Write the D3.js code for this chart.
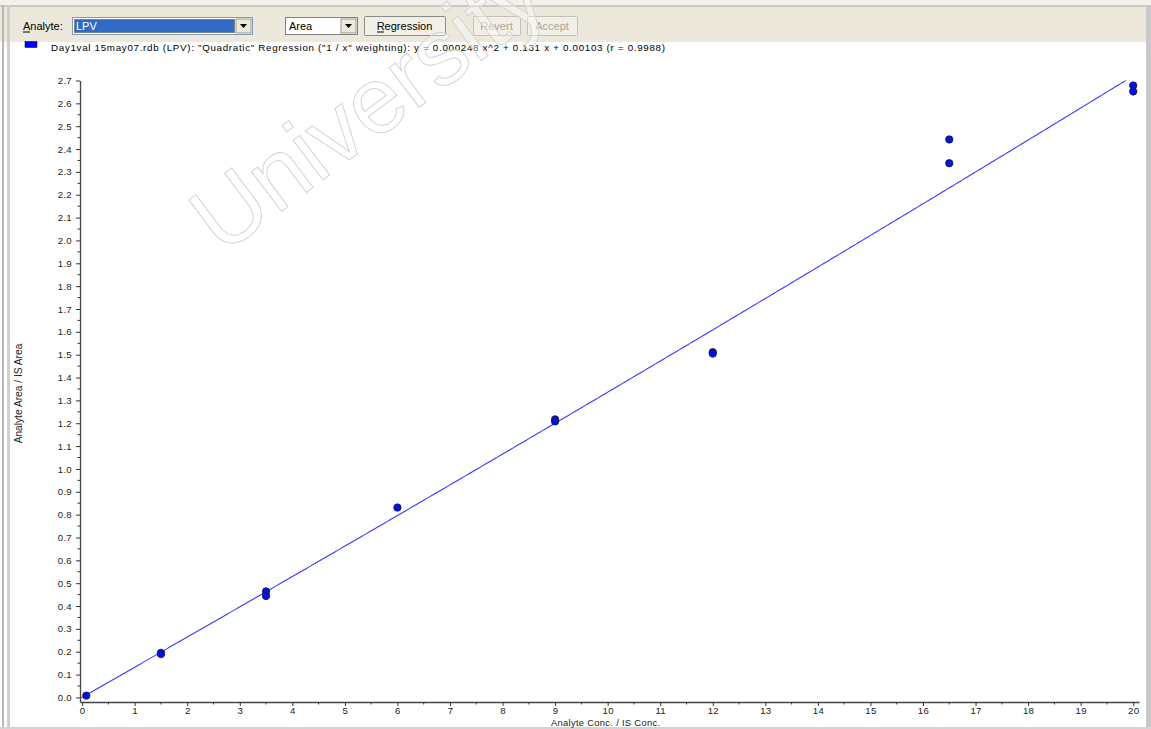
<!DOCTYPE html>
<html>
<head>
<meta charset="utf-8">
<script src="https://cdn.jsdelivr.net/npm/d3@7"></script>
<style>
  html, body { margin: 0; padding: 0; background: #fff; }
  svg { display: block; font-family: "Liberation Sans", Arial, sans-serif; }
</style>
</head>
<body>
<svg id="chart" width="1151" height="729"></svg>
<script>
// ---- data ----
const concX = [0.08, 1.5, 1.5, 3.5, 3.5, 6, 9, 9, 12, 12, 16.5, 16.5, 20, 20];
const ratioY = [0.008, 0.195, 0.19, 0.464, 0.444, 0.831, 1.217, 1.208, 1.511, 1.505, 2.442, 2.338, 2.678, 2.652];
const coefA = 0.000248, coefB = 0.131, coefC = 0.00103;
const xTickValues = [0,1,2,3,4,5,6,7,8,9,10,11,12,13,14,15,16,17,18,19,20];
const yTickValues = [0.0,0.1,0.2,0.3,0.4,0.5,0.6,0.7,0.8,0.9,1.0,1.1,1.2,1.3,1.4,1.5,1.6,1.7,1.8,1.9,2.0,2.1,2.2,2.3,2.4,2.5,2.6,2.7];
const legendText = 'Day1val 15may07.rdb (LPV): "Quadratic" Regression ("1 / x" weighting): y = 0.000248 x^2 + 0.131 x + 0.00103 (r = 0.9988)';
const xTitle = "Analyte Conc. / IS Conc.";
const yTitle = "Analyte Area / IS Area";

const svg = d3.select("#chart");

// ---- window frame / toolbar ----
svg.append("rect").attr("x",0).attr("y",0).attr("width",1151).attr("height",729).attr("fill","#ffffff");
svg.append("rect").attr("x",0).attr("y",0).attr("width",1151).attr("height",5).attr("fill","#f3f1ea");
svg.append("rect").attr("x",0).attr("y",5).attr("width",1151).attr("height",2).attr("fill","#c9c9c9");
svg.append("rect").attr("x",0).attr("y",7).attr("width",1146).attr("height",35).attr("fill","#ece9dc");
svg.append("rect").attr("x",1146).attr("y",5).attr("width",5).attr("height",724).attr("fill","#c9c9c9");
svg.append("rect").attr("x",2).attr("y",5).attr("width",2).attr("height",724).attr("fill","#b8b8b8");
svg.append("rect").attr("x",7).attr("y",5).attr("width",3).attr("height",724).attr("fill","#cfcfcf");
svg.append("rect").attr("x",0).attr("y",727).attr("width",1151).attr("height",2).attr("fill","#d4d4d4");

const tb = svg.append("g").attr("font-size", 11).attr("fill","#000");
// Analyte label
tb.append("text").attr("x",23).attr("y",30).text("Analyte:");
tb.append("line").attr("x1",23).attr("x2",30).attr("y1",32).attr("y2",32).attr("stroke","#000");
// combo 1
tb.append("rect").attr("x",72.5).attr("y",17.5).attr("width",180).attr("height",17).attr("fill","#fff").attr("stroke","#7f9db9");
tb.append("rect").attr("x",74).attr("y",19).attr("width",161).attr("height",14).attr("fill","#316ac5");
tb.append("rect").attr("x",74.5).attr("y",19.5).attr("width",160).attr("height",13).attr("fill","none").attr("stroke","#c9a24a").attr("stroke-dasharray","1,1");
tb.append("text").attr("x",76).attr("y",30).attr("fill","#fff").text("LPV");
tb.append("rect").attr("x",236).attr("y",19).attr("width",15).attr("height",14).attr("fill","#ece9d8").attr("stroke","#999");
tb.append("path").attr("d","M240,24 L247,24 L243.5,28 Z").attr("fill","#000");
// combo 2
tb.append("rect").attr("x",285.5).attr("y",17.5).attr("width",72).attr("height",17).attr("fill","#fff").attr("stroke","#7f7f7f");
tb.append("text").attr("x",289).attr("y",30).text("Area");
tb.append("rect").attr("x",341).attr("y",19).attr("width",15).attr("height",14).attr("fill","#ece9d8").attr("stroke","#999");
tb.append("path").attr("d","M345,24 L352,24 L348.5,28 Z").attr("fill","#000");
// buttons
function button(x, w, label, enabled) {
  tb.append("rect").attr("x",x+0.5).attr("y",16.5).attr("width",w).attr("height",19).attr("rx",1)
    .attr("fill","#f1efe6").attr("stroke", enabled ? "#8a8a8a" : "#c4c2b8");
  tb.append("text").attr("x",x+w/2).attr("y",30).attr("text-anchor","middle")
    .attr("fill", enabled ? "#000" : "#aca899").text(label);
}
button(364, 81, "Regression", true);
tb.append("line").attr("x1",377).attr("x2",384).attr("y1",32).attr("y2",32).attr("stroke","#000");
button(473, 47, "Revert", false);
button(527, 50, "Accept", false);

// legend
svg.append("rect").attr("x",25).attr("y",41.5).attr("width",12).attr("height",6).attr("fill","#0000ff").attr("stroke","#000").attr("stroke-width",0.5);
svg.append("text").attr("x",51).attr("y",51).attr("font-size",9.8)
  .attr("textLength",614).attr("lengthAdjust","spacing").attr("fill","#000").text(legendText);

// ---- scales ----
const x = d3.scaleLinear().domain([-0.04, 20.11]).range([80, 1139]);
const y = d3.scaleLinear().domain([-0.02, 2.7]).range([702, 80.5]);

// clip
svg.append("clipPath").attr("id","plotclip").append("rect")
  .attr("x",80).attr("y",80.5).attr("width",1059).attr("height",621.5);

// ---- watermark ----
svg.append("text").attr("transform","translate(222,256) rotate(-37)")
  .attr("font-size",94).attr("font-family","\"Liberation Sans\", Arial, sans-serif")
  .attr("fill","#ffffff").attr("fill-opacity",0.35).attr("stroke","#d4d4d4").attr("stroke-width",1)
  .text("University");

// ---- axes ----
const xAxis = d3.axisBottom(x).tickValues(xTickValues).tickFormat(d3.format("d")).tickSize(4).tickSizeOuter(0).tickPadding(1);
const gx = svg.append("g").attr("transform","translate(0,702)").call(xAxis);
const yAxis = d3.axisLeft(y).tickValues(yTickValues).tickFormat(d3.format(".1f")).tickSize(4).tickSizeOuter(0).tickPadding(4);
const gy = svg.append("g").attr("transform","translate(80,0)").call(yAxis);
[gx, gy].forEach(g => {
  g.selectAll("text").attr("font-size", 9.6).attr("fill","#222").attr("font-family","\"Liberation Sans\", Arial, sans-serif").attr("letter-spacing",0.3);
  g.selectAll("line").attr("stroke","#333");
  g.select(".domain").attr("stroke","#444").attr("stroke-width",1.3);
});
// minor ticks
const xMinor = xTickValues.slice(0,-1).map(v => v + 0.5);
svg.append("g").selectAll("line").data(xMinor).join("line")
  .attr("x1", d => x(d)).attr("x2", d => x(d)).attr("y1",702).attr("y2",704.5).attr("stroke","#333");
const yMinor = yTickValues.slice(0,-1).map(v => v + 0.05);
svg.append("g").selectAll("line").data(yMinor).join("line")
  .attr("x1",77.5).attr("x2",80).attr("y1", d => y(d)).attr("y2", d => y(d)).attr("stroke","#333");

// axis titles
svg.append("text").attr("x", x(10) - 2).attr("y", 726).attr("text-anchor","middle")
  .attr("font-size",9.4).attr("letter-spacing",0.3).attr("fill","#222").text(xTitle);
svg.append("text").attr("transform","translate(22," + y(1.33) + ") rotate(-90)").attr("text-anchor","middle")
  .attr("font-size",10.2).attr("fill","#222").text(yTitle);

// ---- regression curve ----
const curveX = d3.range(-0.04, 20.11, 0.05);
const line = d3.line().x(d => x(d)).y(d => y(coefA*d*d + coefB*d + coefC));
svg.append("path").datum(curveX).attr("clip-path","url(#plotclip)")
  .attr("d", line).attr("fill","none").attr("stroke","#3a3aff").attr("stroke-width",1.1);

// ---- points ----
svg.append("g").selectAll("circle").data(concX.map((cx, i) => [cx, ratioY[i]])).join("circle")
  .attr("cx", d => x(d[0])).attr("cy", d => y(d[1])).attr("r", 3.7)
  .attr("fill","#0010e8").attr("stroke","#1a1a40").attr("stroke-width",0.8);
</script>
</body>
</html>
